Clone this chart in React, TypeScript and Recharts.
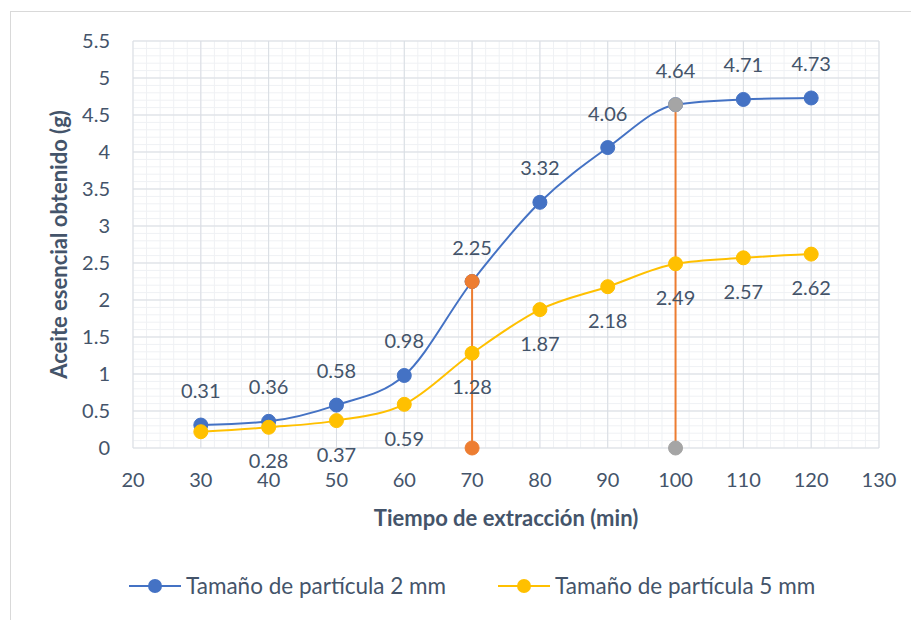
import { ComposedChart, Line, XAxis, YAxis, CartesianGrid, Legend, LabelList } from 'recharts'

// Tiempo de extracción (min)
const times = [30, 40, 50, 60, 70, 80, 90, 100, 110, 120]
// Aceite esencial obtenido (g)
const oil2mm = [0.31, 0.36, 0.58, 0.98, 2.25, 3.32, 4.06, 4.64, 4.71, 4.73]
const oil5mm = [0.22, 0.28, 0.37, 0.59, 1.28, 1.87, 2.18, 2.49, 2.57, 2.62]
const labels2mm = ['0.31', '0.36', '0.58', '0.98', '2.25', '3.32', '4.06', '4.64', '4.71', '4.73']
const labels5mm = [null, '0.28', '0.37', '0.59', '1.28', '1.87', '2.18', '2.49', '2.57', '2.62']

const xTicks = [20, 30, 40, 50, 60, 70, 80, 90, 100, 110, 120, 130]
const yTicks = [0, 0.5, 1, 1.5, 2, 2.5, 3, 3.5, 4, 4.5, 5, 5.5]
// minor gridlines: every 2 min and every 0.1 g
const minorX = Array.from({ length: 56 }, (_, i) => 20 + i * 2)
const minorY = Array.from({ length: 56 }, (_, i) => i / 10)

const series2mm = times.map((t, i) => ({ x: t, y: oil2mm[i], label: labels2mm[i] }))
const series5mm = times.map((t, i) => ({ x: t, y: oil5mm[i], label: labels5mm[i] }))
// vertical drop lines at 70 and 100 min
const drop70 = [{ x: 70, y: 0 }, { x: 70, y: oil2mm[4] }]
const drop100 = [{ x: 100, y: 0 }, { x: 100, y: oil2mm[7] }]

const FONT = 'Lato, "Noto Sans", sans-serif'
const TEXT = '#44546A'
const BLUE = '#4472C4'
const YELLOW = '#FFC000'
const ORANGE = '#ED7D31'
const GREY = '#A5A5A5'

const legendItems = [
  { name: 'Tamaño de partícula 2 mm', color: BLUE },
  { name: 'Tamaño de partícula 5 mm', color: YELLOW },
]

function ChartLegend() {
  return (
    <div style={{ display: 'flex', alignItems: 'center', paddingLeft: 129, gap: 52, fontFamily: FONT, fontSize: 22.5, color: TEXT, lineHeight: '28px' }}>
      {legendItems.map((item) => (
        <div key={item.name} style={{ display: 'flex', alignItems: 'center' }}>
          <svg width={52} height={16}>
            <line x1={0} y1={8} x2={52} y2={8} stroke={item.color} strokeWidth={2} />
            <circle cx={26} cy={8} r={7} fill={item.color} />
          </svg>
          <span style={{ marginLeft: 5 }}>{item.name}</span>
        </div>
      ))}
    </div>
  )
}

function YTitle(props: any) {
  const { viewBox } = props
  const cx = viewBox.x + 58
  const cy = viewBox.y + viewBox.height / 2
  return (
    <text x={cx} y={cy} transform={`rotate(-90 ${cx} ${cy})`} textAnchor="middle" dominantBaseline="central"
      fontFamily={FONT} fontSize={22} fontWeight="bold" fill={TEXT}>
      Aceite esencial obtenido (g)
    </text>
  )
}

function XTitle(props: any) {
  const { viewBox } = props
  const cx = viewBox.x + viewBox.width / 2
  const cy = viewBox.y + 69
  return (
    <text x={cx} y={cy} textAnchor="middle" dominantBaseline="central"
      fontFamily={FONT} fontSize={22} fontWeight="bold" fill={TEXT}>
      Tiempo de extracción (min)
    </text>
  )
}

const labelStyle = { fill: TEXT, fontSize: 20, fontFamily: FONT }

export default function App() {
  return (
    <div style={{ position: 'absolute', left: 0, top: 0, width: 911, height: 620, overflow: 'hidden', background: '#fff' }}>
      <div style={{ position: 'absolute', left: 10, top: 11, width: 960, height: 700, border: '1px solid #D9D9D9' }} />
      <ComposedChart width={911} height={620} margin={{ top: 41, right: 32, left: 0, bottom: 72 }}>
        <CartesianGrid stroke="#EFF1F4" horizontalValues={minorY} verticalValues={minorX} />
        <CartesianGrid stroke="#D9DDE3" horizontalValues={yTicks} verticalValues={xTicks} />
        <XAxis type="number" dataKey="x" domain={[20, 130]} ticks={xTicks} interval={0}
          axisLine={false} tickLine={false} tickSize={0} tickMargin={25} height={100}
          tick={{ fill: TEXT, fontSize: 20, fontFamily: FONT }}
          label={{ content: (p: any) => <XTitle {...p} /> }} />
        <YAxis type="number" domain={[0, 5.5]} ticks={yTicks} interval={0}
          axisLine={false} tickLine={false} tickSize={0} tickMargin={23} width={133}
          tick={{ fill: TEXT, fontSize: 20, fontFamily: FONT }}
          label={{ content: (p: any) => <YTitle {...p} /> }} />
        <Legend verticalAlign="middle" align="center" layout="horizontal" content={() => <ChartLegend />}
          wrapperStyle={{ top: 572, left: 0, width: 911 }} />
        <Line data={series2mm} dataKey="y" type="monotone" stroke={BLUE} strokeWidth={2}
          dot={{ r: 7, fill: BLUE, stroke: BLUE, strokeWidth: 1 }} activeDot={false} isAnimationActive={false}>
          <LabelList dataKey="label" position="top" offset={27} style={labelStyle} />
        </Line>
        <Line data={drop70} dataKey="y" stroke={ORANGE} strokeWidth={2}
          dot={{ r: 7, fill: ORANGE, stroke: ORANGE, strokeWidth: 1 }} activeDot={false} isAnimationActive={false} />
        <Line data={drop100} dataKey="y" stroke={ORANGE} strokeWidth={2}
          dot={{ r: 7, fill: GREY, stroke: GREY, strokeWidth: 1 }} activeDot={false} isAnimationActive={false} />
        <Line data={series5mm} dataKey="y" type="monotone" stroke={YELLOW} strokeWidth={2}
          dot={{ r: 7, fill: YELLOW, stroke: YELLOW, strokeWidth: 1 }} activeDot={false} isAnimationActive={false}>
          <LabelList dataKey="label" position="bottom" offset={27} style={labelStyle} />
        </Line>
      </ComposedChart>
    </div>
  )
}
